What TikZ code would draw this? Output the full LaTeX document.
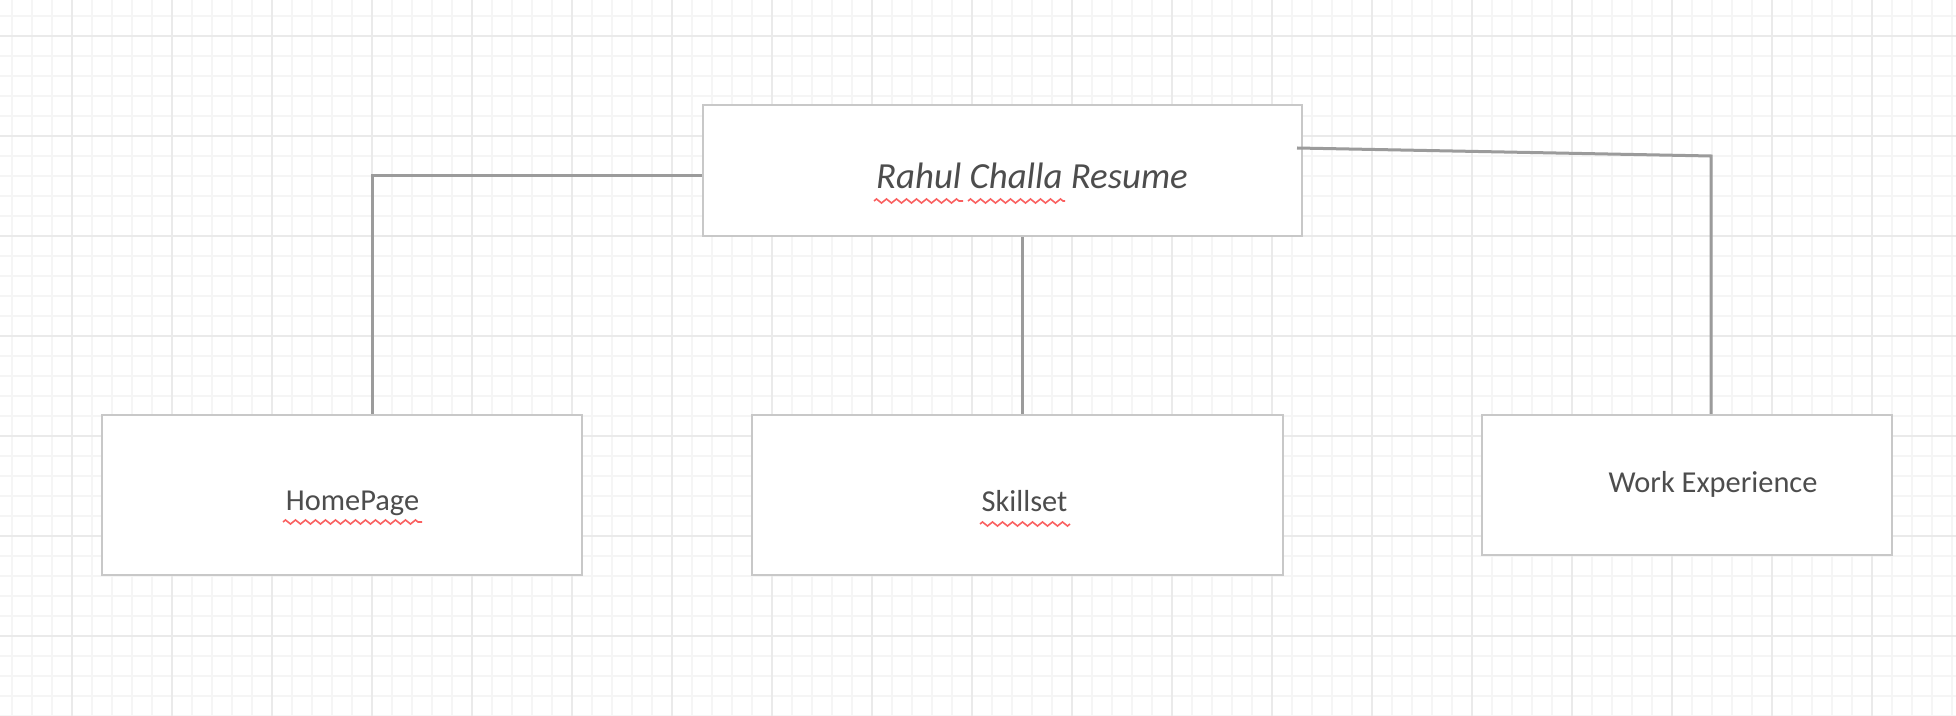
\documentclass[tikz,border=0pt]{standalone}
\usepackage{fontspec}
\setmainfont{Carlito}
\usepackage{tikz}
\usetikzlibrary{
    calc,
    decorations.pathmorphing
}
\definecolor{ink}{RGB}{77,77,77}
\definecolor{boxline}{RGB}{200,200,200}
\definecolor{linkgray}{RGB}{155,155,155}
\definecolor{spellred}{RGB}{250,95,95}
\definecolor{gridlight}{RGB}{245,245,245}
\definecolor{griddark}{RGB}{234,234,234}
\tikzset{
    box/.style={
        rectangle,
        draw=boxline,
        line width=1pt,
        fill=white,
        inner sep=0pt
    },
    boxtext/.style={
        anchor=base,
        inner sep=0pt,
        text=ink,
        font=\normalfont\fontsize{15.2}{18}\selectfont
    },
    titletext/.style={
        boxtext,
        font=\normalfont\itshape\fontsize{18.4}{22}\selectfont
    },
    link/.style={
        draw=linkgray,
        line width=1.5pt
    },
    spell/.style={
        draw=spellred,
        line width=0.8pt,
        decorate,
        decoration={zigzag, amplitude=1pt, segment length=5pt}
    },
    gridminor/.style={
        draw=gridlight,
        line width=1pt
    },
    gridmajor/.style={
        draw=griddark,
        line width=1pt
    }
}

\begin{document}
\begin{tikzpicture}[x=0.5pt, y=-0.5pt]

    % Canvas
    \fill[white] (0,0) rectangle (1956,716);
    \useasboundingbox (0,0) rectangle (1956,716);
    \foreach \gx in {12,32,...,1952}
        \draw[gridminor] (\gx,0) -- (\gx,716);
    \foreach \gy in {16,36,...,716}
        \draw[gridminor] (0,\gy) -- (1956,\gy);
    \foreach \gx in {72,172,...,1972}
        \draw[gridmajor] (\gx,0) -- (\gx,716);
    \foreach \gy in {36,136,...,636}
        \draw[gridmajor] (0,\gy) -- (1956,\gy);

    % Boxes
    \node[box, minimum width=299.5pt, minimum height=65.5pt] (title) at (1002.5,170.5) {};
    \node[box, minimum width=240pt, minimum height=80pt] (hp) at (342,495) {};
    \node[box, minimum width=265.5pt, minimum height=80pt] (sk) at (1017.5,495) {};
    \node[box, minimum width=205pt, minimum height=70pt] (we) at (1687,485) {};

    % Labels
    \node[titletext] (titlelbl) at (1032,189) {Rahul Challa Resume};
    \node[boxtext] (hplbl) at (352.5,511) {HomePage};
    \node[boxtext] (sklbl) at (1024.5,512) {Skillset};
    \node[boxtext] (welbl) at (1713,493) {Work Experience};

    % Spelling marks
    \draw[spell] (874,201) -- (963,201);
    \draw[spell] (968,201) -- (1065,201);
    \draw[spell] (283,522) -- (422,522);
    \draw[spell] (980,524) -- (1070,524);

    % Connectors
    \coordinate (hpjoin) at (372,176);
    \coordinate (skjoin) at (1022,0);
    \coordinate (westart) at (1297,148);
    \coordinate (wecorner) at (1711,156);

    \draw[link] (title.west |- hpjoin) -| (hp.north -| hpjoin);
    \draw[link] (title.south -| skjoin) -- (sk.north -| skjoin);
    \draw[link] (westart) -- (wecorner) -- (we.north -| wecorner);

\end{tikzpicture}
\end{document}
